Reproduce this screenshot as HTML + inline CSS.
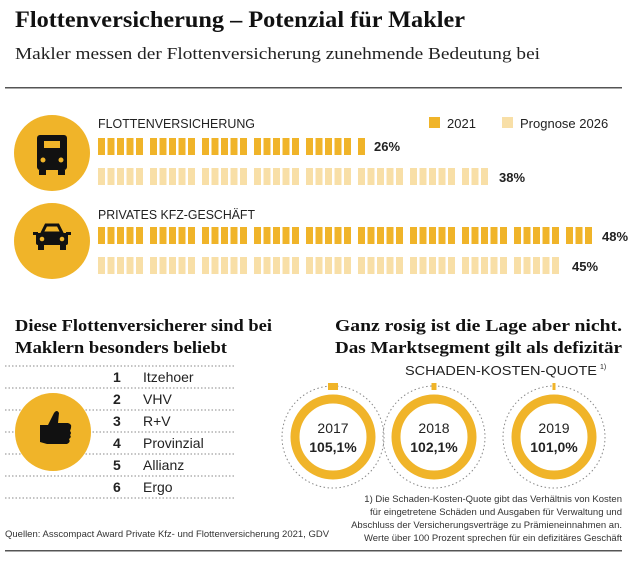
<!DOCTYPE html>
<html><head><meta charset="utf-8"><style>
body{margin:0;width:640px;height:558px;background:#fff;overflow:hidden;font-family:"Liberation Sans",sans-serif}
svg text{font-family:"Liberation Sans",sans-serif}
</style></head><body>
<svg id="s" width="640" height="558" xmlns="http://www.w3.org/2000/svg">
<text x="15" y="27" font-size="23" font-weight="bold" fill="#111" textLength="450" lengthAdjust="spacingAndGlyphs" style="font-family:'Liberation Serif',serif">Flottenversicherung – Potenzial für Makler</text>
<text x="15" y="59" font-size="17" fill="#222" textLength="525" lengthAdjust="spacingAndGlyphs" style="font-family:'Liberation Serif',serif">Makler messen der Flottenversicherung zunehmende Bedeutung bei</text>
<rect x="5" y="87" width="617" height="1.5" fill="#555"/>
<text x="98" y="128" font-size="13" fill="#222" textLength="157" lengthAdjust="spacingAndGlyphs">FLOTTENVERSICHERUNG</text>
<rect x="429" y="117" width="11" height="11" fill="#f0b429"/><text x="447" y="128" font-size="13" fill="#222">2021</text>
<rect x="502" y="117" width="11" height="11" fill="#f8dfa7"/><text x="520" y="128" font-size="13" fill="#222">Prognose 2026</text>
<text x="98" y="219" font-size="13" fill="#222" textLength="157" lengthAdjust="spacingAndGlyphs">PRIVATES KFZ-GESCHÄFT</text>
<text x="374" y="151" font-size="13" font-weight="bold" fill="#222">26%</text>
<text x="499" y="182" font-size="13" font-weight="bold" fill="#222">38%</text>
<text x="602" y="241" font-size="13" font-weight="bold" fill="#222">48%</text>
<text x="572" y="271" font-size="13" font-weight="bold" fill="#222">45%</text>
<g id="bars"></g>
<circle cx="52" cy="153" r="38" fill="#f0b429"/>
<circle cx="52" cy="241" r="38" fill="#f0b429"/>
<rect x="37" y="135" width="30" height="35" rx="3" fill="#111"/>
<rect x="44" y="141" width="16" height="7" fill="#f0b429"/>
<circle cx="43" cy="160" r="2.5" fill="#f0b429"/><circle cx="61" cy="160" r="2.5" fill="#f0b429"/>
<rect x="39" y="170" width="7" height="5" fill="#111"/><rect x="58" y="170" width="7" height="5" fill="#111"/>
<path d="M42 233 L46 225 H58 L62 233 Z" fill="none" stroke="#111" stroke-width="3"/>
<rect x="36" y="233" width="32" height="12" rx="2" fill="#111"/>
<rect x="33" y="232" width="5" height="3" fill="#111"/><rect x="66" y="232" width="5" height="3" fill="#111"/>
<circle cx="42" cy="239" r="2.3" fill="#f0b429"/><circle cx="62" cy="239" r="2.3" fill="#f0b429"/>
<rect x="38" y="245" width="6" height="5" fill="#111"/><rect x="60" y="245" width="6" height="5" fill="#111"/>

<text x="15" y="331" font-size="17" font-weight="bold" fill="#111" textLength="257" lengthAdjust="spacingAndGlyphs" style="font-family:'Liberation Serif',serif">Diese Flottenversicherer sind bei</text>
<text x="15" y="353" font-size="17" font-weight="bold" fill="#111" textLength="212" lengthAdjust="spacingAndGlyphs" style="font-family:'Liberation Serif',serif">Maklern besonders beliebt</text>
<text x="335" y="331" font-size="17" font-weight="bold" fill="#111" textLength="287" lengthAdjust="spacingAndGlyphs" style="font-family:'Liberation Serif',serif">Ganz rosig ist die Lage aber nicht.</text>
<text x="335" y="353" font-size="17" font-weight="bold" fill="#111" textLength="287" lengthAdjust="spacingAndGlyphs" style="font-family:'Liberation Serif',serif">Das Marktsegment gilt als defizitär</text>
<text x="405" y="375" font-size="13" fill="#222" textLength="192" lengthAdjust="spacingAndGlyphs">SCHADEN-KOSTEN-QUOTE</text><text x="600" y="369" font-size="7" fill="#222">1)</text>
<g stroke="#888" stroke-dasharray="1.5,2" stroke-width="1">
<line x1="5" y1="366" x2="236" y2="366"/><line x1="5" y1="388" x2="236" y2="388"/><line x1="5" y1="410" x2="236" y2="410"/>
<line x1="5" y1="432" x2="236" y2="432"/><line x1="5" y1="454" x2="236" y2="454"/><line x1="5" y1="476" x2="236" y2="476"/><line x1="5" y1="498" x2="236" y2="498"/>
</g>
<ellipse cx="53" cy="432" rx="38" ry="39" fill="#f0b429"/>
<path d="M40 425 h8 l6 -12 q3 -4 5 0 l-1 10 h10 q4 1 3 5 l-1 3 q2 2 0 4 q2 2 -1 4 q2 3 -2 5 h-20 l-7 -2 z" fill="#111"/>
<g font-size="14" fill="#222">
<text x="113" y="382" font-weight="bold">1</text><text x="143" y="382">Itzehoer</text>
<text x="113" y="404" font-weight="bold">2</text><text x="143" y="404">VHV</text>
<text x="113" y="426" font-weight="bold">3</text><text x="143" y="426">R+V</text>
<text x="113" y="448" font-weight="bold">4</text><text x="143" y="448">Provinzial</text>
<text x="113" y="470" font-weight="bold">5</text><text x="143" y="470">Allianz</text>
<text x="113" y="492" font-weight="bold">6</text><text x="143" y="492">Ergo</text>
</g>
<g id="donuts"></g>
<g font-size="9.5" fill="#333" text-anchor="end">
<text x="622" y="502">1) Die Schaden-Kosten-Quote gibt das Verhältnis von Kosten</text>
<text x="622" y="515">für eingetretene Schäden und Ausgaben für Verwaltung und</text>
<text x="622" y="528">Abschluss der Versicherungsverträge zu Prämieneinnahmen an.</text>
<text x="622" y="541">Werte über 100 Prozent sprechen für ein defizitäres Geschäft</text>
</g>
<text x="5" y="537" font-size="9.5" fill="#333">Quellen: Asscompact Award Private Kfz- und Flottenversicherung 2021, GDV</text>
<rect x="5" y="550" width="617" height="1.5" fill="#555"/>
</svg>
<script>
var ns="http://www.w3.org/2000/svg",b=document.getElementById('bars');
function row(n,y,c){for(var i=0;i<n;i++){var r=document.createElementNS(ns,'rect');var x=98+Math.floor(i/5)*52+(i%5)*9.5;r.setAttribute('x',x);r.setAttribute('y',y);r.setAttribute('width',7);r.setAttribute('height',17);r.setAttribute('fill',c);b.appendChild(r);}}
row(26,138,'#f0b429');row(38,168,'#f8dfa7');row(48,227,'#f0b429');row(45,257,'#f8dfa7');
var d=document.getElementById('donuts');
[[333,'2017','105,1%',10],[434,'2018','102,1%',5],[554,'2019','101,0%',3]].forEach(function(a){
var cx=a[0],cy=437;
d.insertAdjacentHTML('beforeend','<circle cx="'+cx+'" cy="'+cy+'" r="51" fill="none" stroke="#888" stroke-dasharray="1.5,2.5"/>'+
'<circle cx="'+cx+'" cy="'+cy+'" r="38" fill="none" stroke="#f0b429" stroke-width="9"/>'+
'<rect x="'+(cx-a[3]/2)+'" y="'+(cy-54)+'" width="'+a[3]+'" height="7" fill="#f0b429"/>'+
'<text x="'+cx+'" y="'+(cy-4)+'" text-anchor="middle" font-size="14" fill="#222">'+a[1]+'</text>'+
'<text x="'+cx+'" y="'+(cy+15)+'" text-anchor="middle" font-size="14" font-weight="bold" fill="#222">'+a[2]+'</text>');
});
</script>
</body></html>
